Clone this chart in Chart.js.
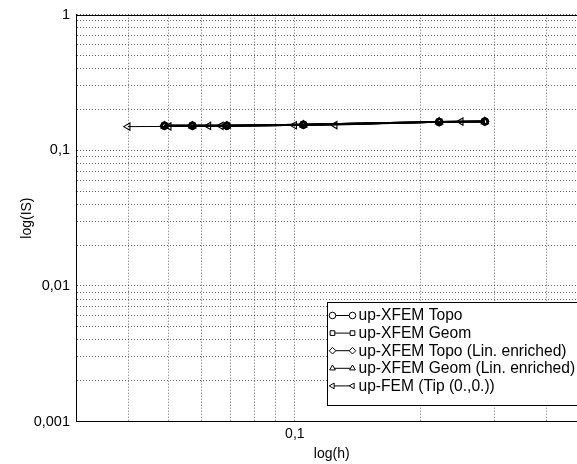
<!DOCTYPE html>
<html>
<head>
<meta charset="utf-8">
<script src="https://cdn.jsdelivr.net/npm/chart.js@4/dist/chart.umd.min.js"></script>
<style>
html,body{margin:0;padding:0;background:#fff;overflow:hidden;width:577px;height:464px}
#wrap{width:577px;height:464px;overflow:hidden;position:relative}
canvas{display:block}
</style>
</head>
<body>
<div id="wrap"><canvas id="c" width="600" height="464" style="width:600px;height:464px"></canvas></div>
<script>
// ---- data ----
const seriesNames = [
  'up-XFEM Topo',
  'up-XFEM Geom',
  'up-XFEM Topo (Lin. enriched)',
  'up-XFEM Geom (Lin. enriched)',
  'up-FEM (Tip (0.,0.))'
];
const xfemH        = [0.0488, 0.0569, 0.0688, 0.1048, 0.2212, 0.2844];
const xfemTopo     = [0.1517, 0.1517, 0.1517, 0.1543, 0.1620, 0.1631];
const xfemGeom     = [0.1517, 0.1517, 0.1517, 0.1543, 0.1620, 0.1631];
const xfemTopoLin  = [0.1517, 0.1517, 0.1517, 0.1543, 0.1620, 0.1631];
const xfemGeomLin  = [0.1517, 0.1517, 0.1517, 0.1543, 0.1620, 0.1631];
const femH         = [0.0399, 0.0500, 0.0622, 0.0666, 0.0997, 0.1246, 0.2493];
const femIS        = [0.1495, 0.1500, 0.1512, 0.1515, 0.1530, 0.1535, 0.1628];

const xMin = 0.03, xMax = 0.5;
const yMin = 0.001, yMax = 1;
const xLabelValues = [0.1];
const xLabelTexts  = ['0,1'];
const yLabelValues = [0.001, 0.01, 0.1, 1];
const yLabelTexts  = ['0,001', '0,01', '0,1', '1'];
const xGridValues  = [0.03, 0.04, 0.05, 0.06, 0.07, 0.08, 0.09, 0.1, 0.2, 0.3, 0.4, 0.5];
const yGridValues  = [];
[0.001, 0.01, 0.1].forEach(d => { for (let k = 1; k <= 9; k++) yGridValues.push(+(d * k).toPrecision(3)); });
yGridValues.push(1);
const xTitle = 'log(h)';
const yTitle = 'log(IS)';

// ---- helpers ----
const toPts = (xs, ys) => xs.map((x, i) => ({x: x, y: ys[i]}));
const labelFor = (vals, texts, v) => {
  for (let i = 0; i < vals.length; i++) if (Math.abs(vals[i] - v) / vals[i] < 1e-6) return texts[i];
  return '';
};
const FONT = "'Liberation Sans', Arial, Helvetica, sans-serif";

const styles = [
  {pointStyle: 'circle',   rot: 0,   r: 3.5, bw: 1.8},
  {pointStyle: 'rect',     rot: 0,   r: 3.6, bw: 1.8},
  {pointStyle: 'rectRot',  rot: 0,   r: 3.8, bw: 1.8},
  {pointStyle: 'triangle', rot: 0,   r: 3.8, bw: 1.8},
  {pointStyle: 'triangle', rot: -90, r: 4.2, bw: 1.0}
];
const seriesX = [xfemH, xfemH, xfemH, xfemH, femH];
const seriesY = [xfemTopo, xfemGeom, xfemTopoLin, xfemGeomLin, femIS];

const datasets = seriesNames.map((name, i) => ({
  label: name,
  data: toPts(seriesX[i], seriesY[i]),
  borderColor: '#000',
  backgroundColor: 'rgba(0,0,0,0)',
  borderWidth: styles[i].bw,
  pointStyle: styles[i].pointStyle,
  pointRotation: styles[i].rot,
  pointRadius: styles[i].r,
  pointBorderWidth: i < 4 ? 1.5 : 1.1,
  pointBorderColor: '#000',
  pointBackgroundColor: 'rgba(0,0,0,0)',
  tension: 0,
  fill: false
}));

function drawMarker(ctx, style, rot, x, y, r) {
  ctx.save();
  ctx.translate(x, y);
  ctx.rotate(rot * Math.PI / 180);
  ctx.beginPath();
  if (style === 'circle') {
    ctx.arc(0, 0, r, 0, Math.PI * 2);
  } else if (style === 'rect') {
    const s = r * Math.SQRT1_2;
    ctx.rect(-s, -s, 2 * s, 2 * s);
  } else if (style === 'rectRot') {
    ctx.moveTo(0, -r); ctx.lineTo(r, 0); ctx.lineTo(0, r); ctx.lineTo(-r, 0); ctx.closePath();
  } else if (style === 'triangle') {
    const h = r * 1.5, side = 3 * r / Math.sqrt(3);
    ctx.moveTo(0, -r); ctx.lineTo(side / 2, h - r); ctx.lineTo(-side / 2, h - r); ctx.closePath();
  }
  ctx.fillStyle = '#fff';
  ctx.fill();
  ctx.lineWidth = 1;
  ctx.strokeStyle = '#000';
  ctx.stroke();
  ctx.restore();
}

const framePlugin = {
  id: 'frameAndLegend',
  beforeDatasetsDraw(chart) {
    const {ctx, chartArea} = chart;
    ctx.save();
    ctx.strokeStyle = '#000';
    ctx.lineWidth = 1;
    ctx.beginPath();
    ctx.moveTo(chartArea.left, Math.round(chartArea.top) + 0.5);
    ctx.lineTo(chartArea.right, Math.round(chartArea.top) + 0.5);
    ctx.stroke();
    ctx.restore();
  },
  afterDraw(chart) {
    const ctx = chart.ctx;
    const x0 = 327, y0 = 302, w = 300, h = 103;
    ctx.save();
    ctx.fillStyle = '#fff';
    ctx.fillRect(x0, y0, w, h);
    ctx.strokeStyle = '#000';
    ctx.lineWidth = 1;
    ctx.strokeRect(x0 + 0.5, y0 + 0.5, w, h);
    chart.data.datasets.forEach((ds, i) => {
      const y = 315.5 + i * 17.6;
      ctx.beginPath();
      ctx.strokeStyle = '#000';
      ctx.lineWidth = 1;
      ctx.moveTo(332.5, y); ctx.lineTo(352.5, y);
      ctx.stroke();
      drawMarker(ctx, ds.pointStyle, ds.pointRotation, 332.5, y, 3.3);
      drawMarker(ctx, ds.pointStyle, ds.pointRotation, 352.5, y, 3.3);
      ctx.fillStyle = '#000';
      ctx.font = '15.6px ' + FONT;
      ctx.textBaseline = 'middle';
      ctx.textAlign = 'left';
      ctx.fillText(ds.label, 358.5, y + 0.5);
    });
    ctx.restore();
  }
};

const gridColor = 'rgba(0,0,0,0.6)';

new Chart(document.getElementById('c'), {
  type: 'line',
  data: {datasets: datasets},
  options: {
    responsive: false,
    animation: false,
    events: [],
    layout: {padding: {top: 14, left: 0, right: 12.6, bottom: 0}},
    plugins: {legend: {display: false}, tooltip: {enabled: false}},
    scales: {
      x: {
        type: 'logarithmic',
        min: xMin, max: xMax,
        afterBuildTicks: s => { s.ticks = xGridValues.map(v => ({value: v})); },
        afterFit: s => { s.height = 42.5; },
        ticks: {
          autoSkip: false, maxRotation: 0, padding: 4,
          color: '#000', font: {family: FONT, size: 14},
          callback: v => labelFor(xLabelValues, xLabelTexts, v)
        },
        grid: {color: gridColor, lineWidth: 1, drawTicks: false},
        border: {display: true, color: '#000', width: 1, dash: [1, 2]},
        title: {display: true, text: xTitle, color: '#000', font: {family: FONT, size: 14}, padding: {top: 0, bottom: 1.5}}
      },
      y: {
        type: 'logarithmic',
        min: yMin, max: yMax,
        afterBuildTicks: s => { s.ticks = yGridValues.map(v => ({value: v})); },
        afterFit: s => { s.width = 76; },
        ticks: {
          autoSkip: false, padding: 6,
          color: '#000', font: {family: FONT, size: 14.5},
          callback: v => labelFor(yLabelValues, yLabelTexts, v)
        },
        grid: {color: gridColor, lineWidth: 1, drawTicks: false},
        border: {display: true, color: '#000', width: 1, dash: [1, 2]},
        title: {display: true, text: yTitle, color: '#000', font: {family: FONT, size: 14}, padding: {top: 19, bottom: 0}}
      }
    }
  },
  plugins: [framePlugin]
});
</script>
</body>
</html>
